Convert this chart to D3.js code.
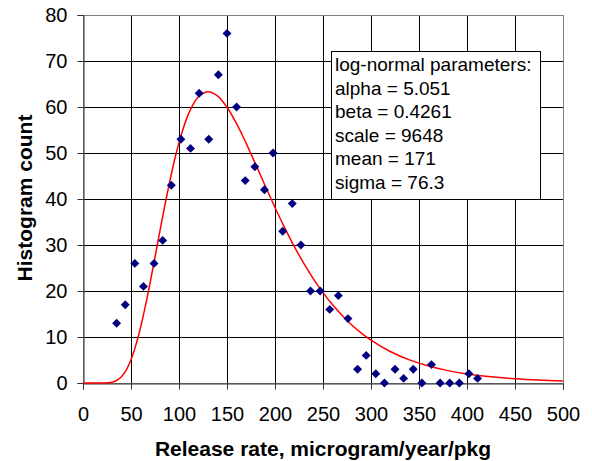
<!DOCTYPE html>
<html><head><meta charset="utf-8">
<script src="https://cdn.jsdelivr.net/npm/d3@7/dist/d3.min.js"></script>
<style>body{margin:0;background:#fff}svg{display:block}text{font-family:Arial,"Liberation Sans",sans-serif}</style>
</head><body><svg id="c" width="592" height="461"></svg>
<script>
const pointX = [35,44,54,63,74,83,92,102,112,121,131,141,150,160,169,179,189,198,208,218,227,237,247,257,266,276,286,295,305,314,325,334,344,353,363,372,382,392,402,411];
const pointY = [13,17,26,21,26,31,43,53,51,63,53,67,76,60,44,47,42,50,33,39,30,20,20,16,19,14,3,6,2,0,3,1,3,0,4,0,0,0,2,1];
const curveX = [0,10,20,30,35,40,45,50,55,60,65,70,75,80,85,90,95,100,110,120,130,140,150,160,170,180,190,200,210,220,230,240,250,260,270,280,290,300,320,340,360,380,400,425,450,475,500];
const curveY = [0,0,0,0.17,0.55,1.36,2.82,5.07,8.18,12.11,16.75,21.90,27.37,32.92,38.36,43.47,48.15,52.26,58.55,62.17,63.33,62.43,59.95,56.37,52.09,47.47,42.77,38.16,33.79,29.72,26.00,22.64,19.64,16.99,14.66,12.62,10.85,9.31,6.84,5.02,3.68,2.69,1.98,1.35,0.92,0.63,0.43];
const xTicks = [0,50,100,150,200,250,300,350,400,450,500];
const yTicks = [0,10,20,30,40,50,60,70,80];
const legendLines = ["log-normal parameters:","alpha = 5.051","beta = 0.4261","scale = 9648","mean = 171","sigma = 76.3"];

const svg = d3.select("#c");
const L=83, R=563, T=15, B=383;
const x = d3.scaleLinear().domain([0,500]).range([L,R]);
const y = d3.scaleLinear().domain([0,80]).range([B,T]);

// gridlines
const g = svg.append("g");
g.selectAll("line.v").data(xTicks).join("line")
 .attr("x1",d=>Math.round(x(d))+0.5).attr("x2",d=>Math.round(x(d))+0.5)
 .attr("y1",T).attr("y2",B).attr("stroke","#000").attr("stroke-width",1);
g.selectAll("line.h").data(yTicks).join("line")
 .attr("y1",d=>Math.round(y(d))+0.5).attr("y2",d=>Math.round(y(d))+0.5)
 .attr("x1",L).attr("x2",R).attr("stroke","#000").attr("stroke-width",1);
svg.append("rect").attr("x",L+0.5).attr("y",T+0.5).attr("width",R-L).attr("height",B-T)
 .attr("fill","none").attr("stroke","#808080");

// axes
const xa = svg.append("g").attr("transform",`translate(0,${B+0.5})`)
 .call(d3.axisBottom(x).tickValues(xTicks).tickSize(6).tickPadding(17).tickFormat(d3.format("d")));
const ya = svg.append("g").attr("transform",`translate(${L+0.5},0)`)
 .call(d3.axisLeft(y).tickValues(yTicks).tickSize(6).tickPadding(10).tickFormat(d3.format("d")));
[xa,ya].forEach(a=>{
 a.select(".domain").attr("stroke","#333");
 a.selectAll(".tick line").attr("stroke","#333");
 a.selectAll("text").attr("font-size",20).attr("fill","#000").style("font-family","Arial, 'Liberation Sans', sans-serif");
});

// curve
const line = d3.line().x((d,i)=>x(curveX[i])).y(d=>y(d)).curve(d3.curveCatmullRom);
svg.append("path").datum(curveY).attr("d",line).attr("fill","none").attr("stroke","#ff0000").attr("stroke-width",1.5);

// points
svg.selectAll("path.pt").data(pointY).join("path")
 .attr("d",d3.symbol().type(d3.symbolSquare).size(40))
 .attr("transform",(d,i)=>`translate(${x(pointX[i])},${y(d)}) rotate(45)`)
 .attr("fill","#000080");

// legend box
const lg = svg.append("g");
lg.append("rect").attr("x",331.5).attr("y",51.5).attr("width",209).attr("height",148)
 .attr("fill","#fff").attr("stroke","#000");
lg.selectAll("text").data(legendLines).join("text")
 .attr("x",335).attr("y",(d,i)=>71+i*23.5).attr("font-size",19).text(d=>d);

// titles
svg.append("text").attr("x",323).attr("y",456).attr("text-anchor","middle")
 .attr("font-size",21).attr("font-weight","bold").text("Release rate, microgram/year/pkg");
svg.append("text").attr("transform","translate(32,198) rotate(-90)").attr("text-anchor","middle")
 .attr("font-size",21).attr("font-weight","bold").text("Histogram count");
</script></body></html>
